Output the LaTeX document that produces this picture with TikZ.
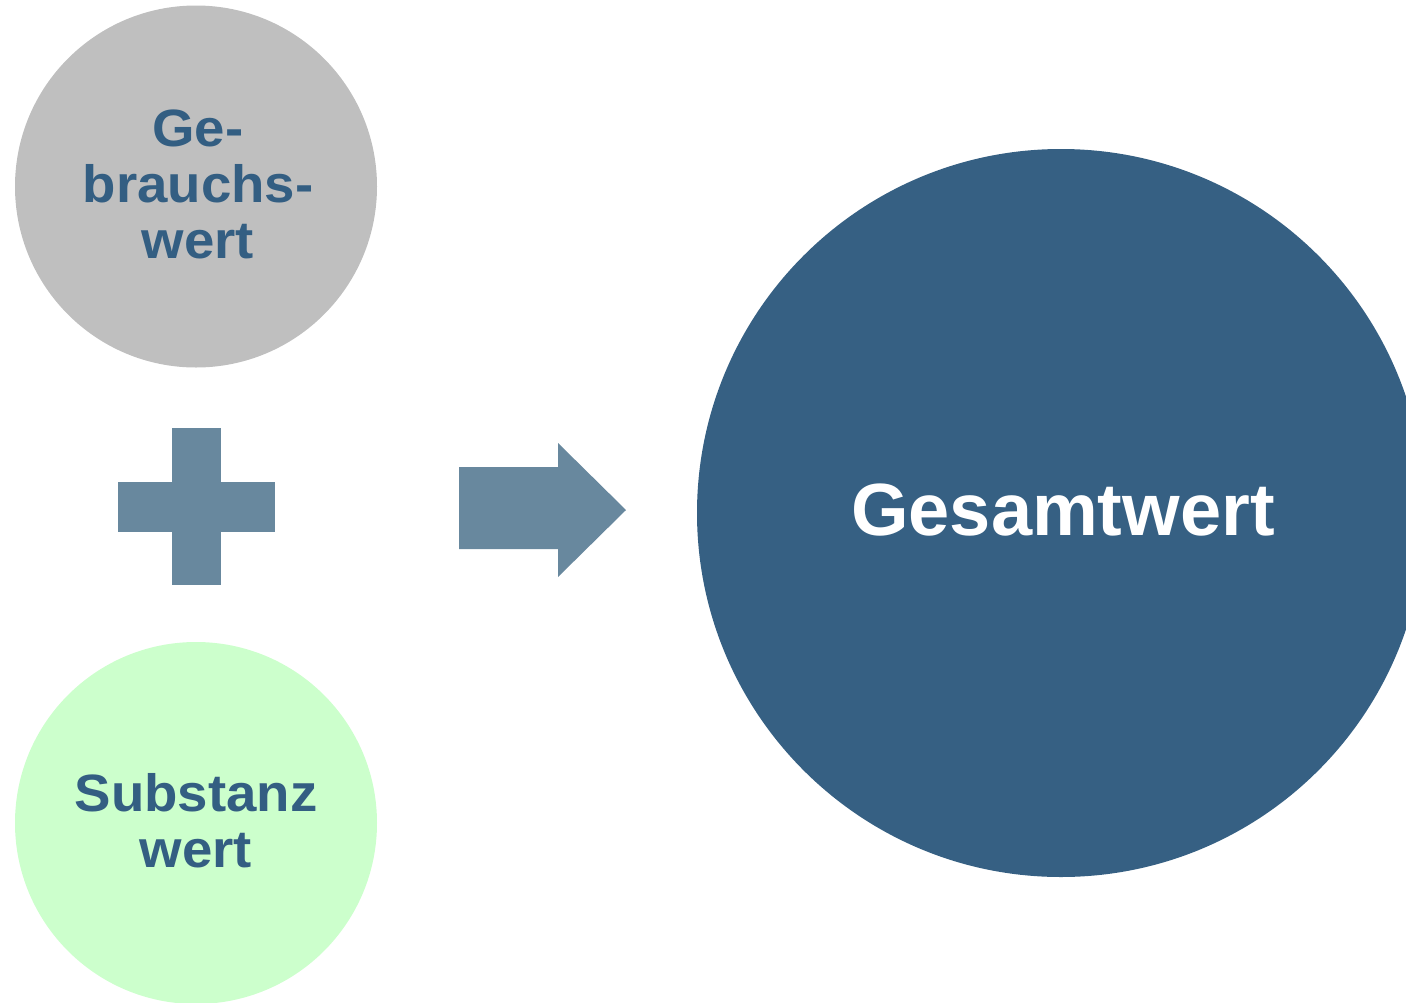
\documentclass[tikz,border=0pt]{standalone}
\usepackage{fontspec}
\setmainfont{Liberation Sans}
\newfontfamily\widefont[FakeStretch=1.04]{Liberation Sans}
\definecolor{darkblue}{HTML}{366083}
\definecolor{textblue}{HTML}{335E82}
\definecolor{shapeblue}{HTML}{68889E}
\definecolor{lightgray}{HTML}{BFBFBF}
\definecolor{lightgreen}{HTML}{CCFFCC}
\begin{document}
\begin{tikzpicture}[x=1pt,y=-1pt,
  smalltext/.style={text=textblue,font=\widefont\fontsize{52.5}{56}\selectfont\bfseries,align=center,inner sep=0pt},
  bigtext/.style={text=white,font=\fontsize{74}{80}\selectfont\bfseries,inner sep=0pt},
  part/.style={fill=shapeblue,draw=none}]
\useasboundingbox (0,0) rectangle (1406,1002);
\clip (0,0) rectangle (1406,1002);
\fill[lightgray] (196,186.5) circle (181);
\fill[lightgreen] (196,823) circle (181);
\fill[darkblue] (1061,513) circle (364);
% plus sign
\fill[part] (172,428) rectangle (221,585);
\fill[part] (118,482) rectangle (275,532);
% arrow
\fill[part] (459,467) -- (558,467) -- (558,443) -- (626,510) -- (558,577) -- (558,549) -- (459,549) -- cycle;
\node[smalltext] (gebrauch) at (198,184) {Ge-\\brauchs-\\wert};
\node[smalltext] (substanz) at (196,821) {Substanz\\wert};
\node[bigtext] (gesamt) at (1063,510) {Gesamtwert};
\end{tikzpicture}
\end{document}
